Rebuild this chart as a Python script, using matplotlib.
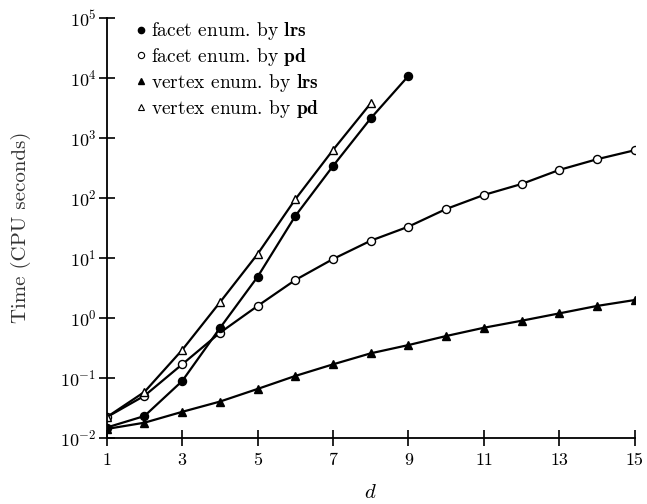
import matplotlib
matplotlib.use("Agg")
import matplotlib.pyplot as plt
from matplotlib.lines import Line2D

plt.rcParams['font.family'] = ['cmr10', 'DejaVu Serif']
plt.rcParams['mathtext.fontset'] = 'cm'
plt.rcParams['axes.formatter.use_mathtext'] = True

d_facet_lrs = [1, 2, 3, 4, 5, 6, 7, 8, 9]
t_facet_lrs = [0.0148, 0.023, 0.088, 0.67, 4.8, 49.5, 337, 2100, 10700]

d_facet_pd = list(range(1, 16))
t_facet_pd = [0.022, 0.05, 0.167, 0.56, 1.57, 4.25, 9.5, 19.2, 32.9, 64.8,
              111, 169, 290, 437, 617]

d_vertex_lrs = list(range(1, 16))
t_vertex_lrs = [0.014, 0.0178, 0.027, 0.04, 0.065, 0.107, 0.167, 0.255, 0.35,
                0.495, 0.68, 0.89, 1.18, 1.57, 1.97]

d_vertex_pd = [1, 2, 3, 4, 5, 6, 7, 8]
t_vertex_pd = [0.022, 0.058, 0.29, 1.8, 11.5, 94, 624, 3740]

labels = [r"facet enum. by $\mathbf{lrs}$",
          r"facet enum. by $\mathbf{pd}$",
          r"vertex enum. by $\mathbf{lrs}$",
          r"vertex enum. by $\mathbf{pd}$"]
xticks = [1, 3, 5, 7, 9, 11, 13, 15]

fig = plt.figure(figsize=(6.47, 5.04), dpi=100)
ax = fig.add_axes([0.165, 0.1315, 0.816, 0.8335])

lw = 1.6
ax.plot(d_vertex_lrs, t_vertex_lrs, '-^', color='black', lw=lw, ms=5.5,
        mfc='black', mec='black', mew=1)
ax.plot(d_facet_pd, t_facet_pd, '-o', color='black', lw=lw, ms=5.8,
        mfc='white', mec='black', mew=1)
ax.plot(d_vertex_pd, t_vertex_pd, '-^', color='black', lw=lw, ms=5.5,
        mfc='white', mec='black', mew=1)
ax.plot(d_facet_lrs, t_facet_lrs, '-o', color='black', lw=lw, ms=5.8,
        mfc='black', mec='black', mew=1)

ax.set_yscale('log')
ax.set_xlim(1, 15)
ax.set_ylim(1e-2, 1e5)
ax.set_xticks(xticks)
ax.set_xticklabels([str(v) for v in xticks])
ax.set_yticks([10.0**k for k in range(-2, 6)])
ax.yaxis.set_minor_locator(matplotlib.ticker.NullLocator())

for s in ['top', 'right']:
    ax.spines[s].set_visible(False)
for s in ['left', 'bottom']:
    ax.spines[s].set_linewidth(1.3)
ax.tick_params(axis='both', direction='inout', length=11, width=1.2,
               labelsize=13, pad=2)
ax.tick_params(axis='x', pad=5)
ax.patch.set_alpha(0)

ax.set_xlabel(r"$d$", fontsize=15, labelpad=12)
ax.set_ylabel("Time (CPU seconds)", fontsize=15, labelpad=21, color='#333333')

handles = [
    Line2D([], [], ls='none', marker='o', ms=4.5, mfc='black', mec='black'),
    Line2D([], [], ls='none', marker='o', ms=4.5, mfc='white', mec='black', mew=0.8),
    Line2D([], [], ls='none', marker='^', ms=4.5, mfc='black', mec='black'),
    Line2D([], [], ls='none', marker='^', ms=4.5, mfc='white', mec='black', mew=0.8),
]
ax.legend(handles, labels, loc='upper left', bbox_to_anchor=(0.04, 1.012),
          frameon=False, fontsize=14, handlelength=0.5, handletextpad=0.3,
          labelspacing=0.2, borderaxespad=0)

fig.savefig("out.png", dpi=100)
